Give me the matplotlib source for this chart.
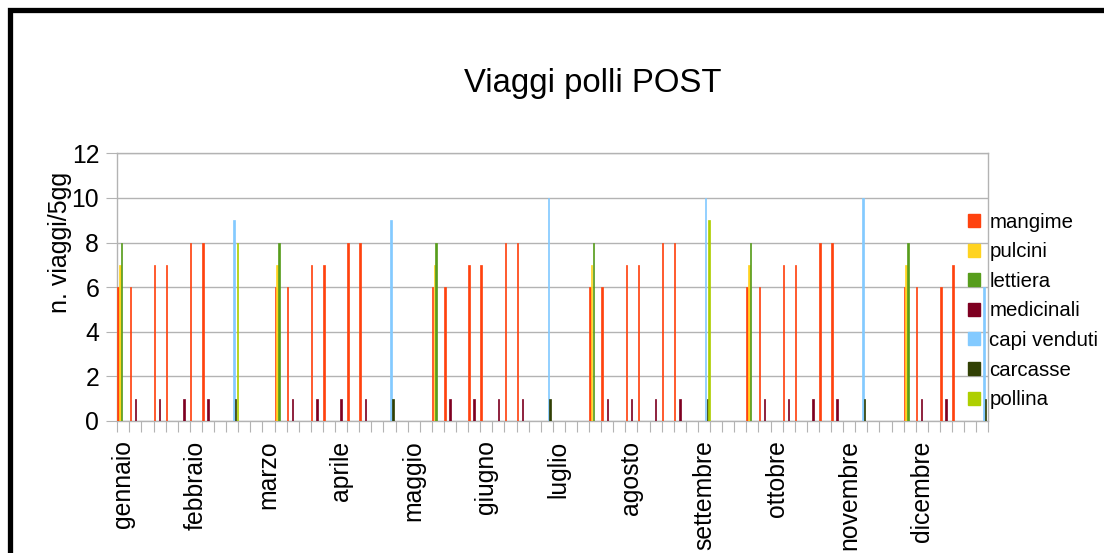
import matplotlib.pyplot as plt
import numpy as np
from matplotlib.patches import Rectangle

plt.rcParams['font.family'] = ['Liberation Sans', 'DejaVu Sans']

# 72 periodi da 5 giorni (6 per mese)
mesi = ['gennaio', 'febbraio', 'marzo', 'aprile', 'maggio', 'giugno',
        'luglio', 'agosto', 'settembre', 'ottobre', 'novembre', 'dicembre']

# valori per periodo (un ciclo = 13 periodi per riga)
mangime = [6, 6, 0, 7, 7, 0, 8, 8, 0, 0, 0, 0, 0,
           6, 6, 0, 7, 7, 0, 8, 8, 0, 0, 0, 0, 0,
           6, 6, 0, 7, 7, 0, 8, 8, 0, 0, 0, 0, 0,
           6, 6, 0, 7, 7, 0, 8, 8, 0, 0, 0, 0, 0,
           6, 6, 0, 7, 7, 0, 8, 8, 0, 0, 0, 0, 0,
           6, 6, 0, 6, 7, 0, 0]
pulcini = [7, 0, 0, 0, 0, 0, 0, 0, 0, 0, 0, 0, 0,
           7, 0, 0, 0, 0, 0, 0, 0, 0, 0, 0, 0, 0,
           7, 0, 0, 0, 0, 0, 0, 0, 0, 0, 0, 0, 0,
           7, 0, 0, 0, 0, 0, 0, 0, 0, 0, 0, 0, 0,
           7, 0, 0, 0, 0, 0, 0, 0, 0, 0, 0, 0, 0,
           7, 0, 0, 0, 0, 0, 0]
lettiera = [8, 0, 0, 0, 0, 0, 0, 0, 0, 0, 0, 0, 0,
            8, 0, 0, 0, 0, 0, 0, 0, 0, 0, 0, 0, 0,
            8, 0, 0, 0, 0, 0, 0, 0, 0, 0, 0, 0, 0,
            8, 0, 0, 0, 0, 0, 0, 0, 0, 0, 0, 0, 0,
            8, 0, 0, 0, 0, 0, 0, 0, 0, 0, 0, 0, 0,
            8, 0, 0, 0, 0, 0, 0]
medicinali = [0, 1, 0, 1, 0, 1, 0, 1, 0, 0, 0, 0, 0,
              0, 1, 0, 1, 0, 1, 0, 1, 0, 0, 0, 0, 0,
              0, 1, 0, 1, 0, 1, 0, 1, 0, 0, 0, 0, 0,
              0, 1, 0, 1, 0, 1, 0, 1, 0, 0, 0, 0, 0,
              0, 1, 0, 1, 0, 1, 0, 1, 0, 0, 0, 0, 0,
              0, 1, 0, 1, 0, 0, 0]
capi_venduti = [0, 0, 0, 0, 0, 0, 0, 0, 0, 9, 0, 0, 0,
                0, 0, 0, 0, 0, 0, 0, 0, 0, 9, 0, 0, 0,
                0, 0, 0, 0, 0, 0, 0, 0, 0, 10, 0, 0, 0,
                0, 0, 0, 0, 0, 0, 0, 0, 0, 10, 0, 0, 0,
                0, 0, 0, 0, 0, 0, 0, 0, 0, 10, 0, 0, 0,
                0, 0, 0, 0, 0, 0, 6]
carcasse = [0, 0, 0, 0, 0, 0, 0, 0, 0, 1, 0, 0, 0,
            0, 0, 0, 0, 0, 0, 0, 0, 0, 1, 0, 0, 0,
            0, 0, 0, 0, 0, 0, 0, 0, 0, 1, 0, 0, 0,
            0, 0, 0, 0, 0, 0, 0, 0, 0, 1, 0, 0, 0,
            0, 0, 0, 0, 0, 0, 0, 0, 0, 1, 0, 0, 0,
            0, 0, 0, 0, 0, 0, 1]
pollina = [0, 0, 0, 0, 0, 0, 0, 0, 0, 8, 0, 0, 0,
           0, 0, 0, 0, 0, 0, 0, 0, 0, 0, 0, 0, 0,
           0, 0, 0, 0, 0, 0, 0, 0, 0, 0, 0, 0, 0,
           0, 0, 0, 0, 0, 0, 0, 0, 0, 9, 0, 0, 0,
           0, 0, 0, 0, 0, 0, 0, 0, 0, 0, 0, 0, 0,
           0, 0, 0, 0, 0, 0, 0]

serie = [('mangime', mangime, '#FF420E'),
         ('pulcini', pulcini, '#FFD320'),
         ('lettiera', lettiera, '#579D1C'),
         ('medicinali', medicinali, '#7E0021'),
         ('capi venduti', capi_venduti, '#83CAFF'),
         ('carcasse', carcasse, '#314004'),
         ('pollina', pollina, '#AECF00')]

n = len(mangime)
x = np.arange(n)
w = 1 / len(serie)
grigio = '#b3b3b3'

fig = plt.figure(figsize=(11.04, 5.53), dpi=100)
ax = fig.add_axes([117.3 / 1104, 1 - 421 / 553, 871 / 1104, 267.7 / 553])

handles = []
for i, (nome, val, col) in enumerate(serie):
    val = np.array(val)
    k = val > 0
    ax.bar(x[k] + (i + 0.5) * w, val[k], width=w * 0.85, color=col,
           edgecolor=col, linewidth=0.5, align='center', zorder=3)
    handles.append(Rectangle((0, 0), 1, 1, color=col, label=nome))

ax.set_xlim(0, n)
ax.set_ylim(0, 12)
ax.set_yticks(range(0, 13, 2))
ax.yaxis.grid(True, color=grigio, linewidth=1.0)
ax.set_axisbelow(True)
for s in ax.spines.values():
    s.set_color(grigio)
    s.set_linewidth(1.0)

ax.set_xticks(np.arange(0, n + 1))
ax.set_xticklabels([])
ax.set_xticks(np.arange(0, n, 6) + 0.5, minor=True)
ax.set_xticklabels(mesi, minor=True, rotation=90, fontsize=17.8, va='top')
ax.tick_params(axis='x', which='major', length=8, color=grigio, direction='out')
ax.tick_params(axis='x', which='minor', length=0, pad=14)
ax.tick_params(axis='y', length=8, color=grigio, labelsize=17.8, pad=5)

fig.text(593 / 1104, 1 - 91.7 / 553, 'Viaggi polli POST', fontsize=23.7,
         ha='center', va='baseline')
fig.text(60 / 1104, 1 - 242 / 553, 'n. viaggi/5gg', fontsize=18,
         rotation=90, ha='center', va='center')

fig.legend(handles=handles, loc='center left',
           bbox_to_anchor=(968 / 1104, 1 - 311 / 553), frameon=False,
           fontsize=14.7, handlelength=0.6, handleheight=0.6,
           handletextpad=0.45, labelspacing=0.52, borderpad=0,
           borderaxespad=0)

# cornice esterna
fig.patches.append(Rectangle((9.5 / 1104, -0.2), 1.3, 1.2 - 9.5 / 553,
                             transform=fig.transFigure, fill=False,
                             edgecolor='black', linewidth=3.8, clip_on=False))

fig.savefig('out.png', dpi=100)
